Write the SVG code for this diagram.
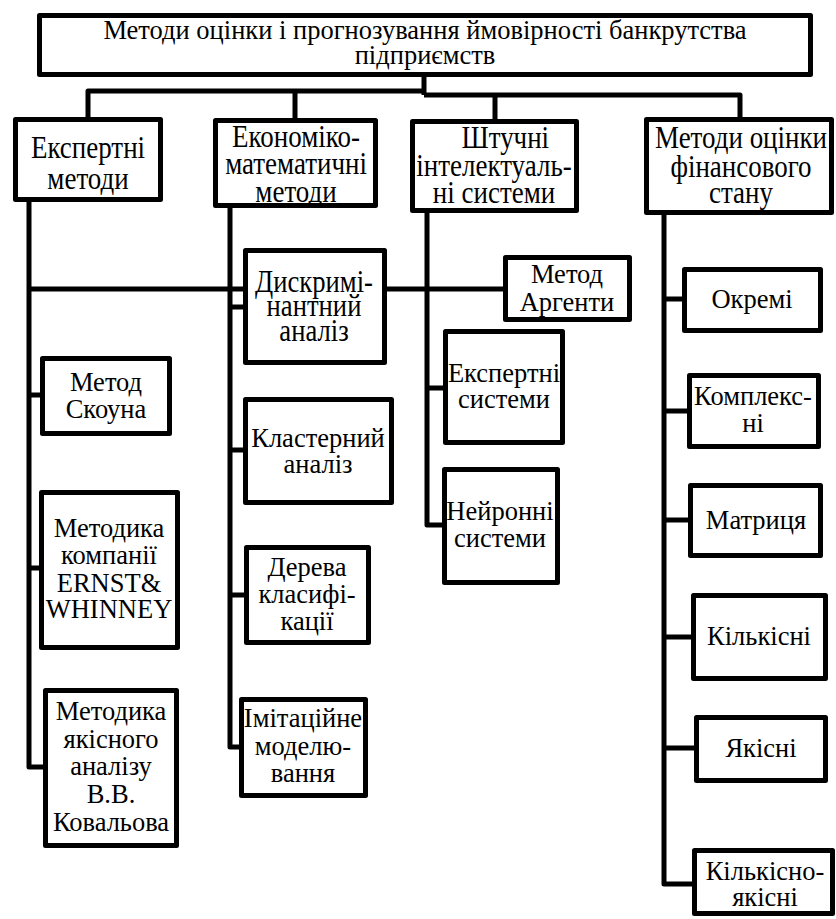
<svg xmlns="http://www.w3.org/2000/svg" width="836" height="919" viewBox="0 0 836 919">
<style>
.box{fill:#fff;stroke:#000;stroke-width:5;stroke-linejoin:round}
.ln{fill:none;stroke:#000;stroke-width:5;stroke-linejoin:round;stroke-linecap:butt}
.t{font-family:"Liberation Serif","Times New Roman",serif;font-size:26.5px;text-anchor:middle;fill:#000}
.tt{font-family:"Liberation Serif","Times New Roman",serif;font-size:31px;text-anchor:middle;fill:#000}
</style>
<rect width="836" height="919" fill="#fff"/>
<g id="connectors">
<path class="ln" d="M424,77 V95 M88,117 V91 H424 M295,118 V91 M424,95 H740 V117 M495,119 V95"/>
<path class="ln" d="M29,202 V767 H43 M29,289 H503 M29,395 H40 M29,568 H39"/>
<path class="ln" d="M230,208 V747 H239 M230,307 H243 M230,450 H243 M230,595 H244"/>
<path class="ln" d="M427,213 V525 H442 M427,388 H443"/>
<path class="ln" d="M664,215 V884 H692 M664,299 H682 M664,411 H687 M664,520 H688 M664,637 H691 M664,748 H694"/>
</g>
<g id="root"><rect class="box" x="39.5" y="15.5" width="771" height="59"/><text class="t" x="425" y="39">Методи оцінки і прогнозування ймовірності банкрутства</text><text class="t" x="425" y="64">підприємств</text></g>
<g id="expert"><rect class="box" x="15.5" y="119.5" width="145" height="80"/><g transform="translate(88,0) scale(0.87,1)"><text class="tt" x="0" y="158">Експертні</text><text class="tt" x="0" y="189">методи</text></g></g>
<g id="econ"><rect class="box" x="215.5" y="120.5" width="160" height="85"/><g transform="translate(296,0) scale(0.87,1)"><text class="tt" x="0" y="147">Економіко-</text><text class="tt" x="0" y="174">математичні</text><text class="tt" x="0" y="202">методи</text></g></g>
<g id="ai"><rect class="box" x="412.5" y="121.5" width="164" height="89"/><g transform="translate(494,0) scale(0.87,1)"><text class="tt" x="13" y="148">Штучні</text><text class="tt" x="0" y="176">інтелектуаль-</text><text class="tt" x="0" y="203">ні системи</text></g></g>
<g id="fin"><rect class="box" x="646.5" y="119.5" width="185" height="93"/><g transform="translate(741,0) scale(0.87,1)"><text class="tt" x="0" y="148">Методи оцінки</text><text class="tt" x="0" y="177">фінансового</text><text class="tt" x="0" y="203">стану</text></g></g>
<g id="discr"><rect class="box" x="245.5" y="250.5" width="139" height="112"/><g transform="translate(314,0) scale(0.86,1)"><text class="tt" x="0" y="292">Дискримі-</text><text class="tt" x="0" y="316">нантний</text><text class="tt" x="0" y="341">аналіз</text></g></g>
<g id="scoun"><rect class="box" x="42.5" y="358.5" width="127" height="75"/><text class="t" x="106" y="391">Метод</text><text class="t" x="106" y="418">Скоуна</text></g>
<g id="cluster"><rect class="box" x="245.5" y="399.5" width="146" height="103"/><text class="t" x="318" y="447">Кластерний</text><text class="t" x="318" y="473">аналіз</text></g>
<g id="ernst"><rect class="box" x="41.5" y="492.5" width="136" height="155"/><text class="t" x="109" y="537">Методика</text><text class="t" x="109" y="564">компанії</text><text class="t" x="109" y="592">ERNST&amp;</text><text class="t" x="109" y="618">WHINNEY</text></g>
<g id="kovalyov"><rect class="box" x="45.5" y="690.5" width="131" height="155"/><text class="t" x="111" y="720">Методика</text><text class="t" x="111" y="748">якісного</text><text class="t" x="111" y="775">аналізу</text><text class="t" x="111" y="803">В.В.</text><text class="t" x="111" y="831">Ковальова</text></g>
<g id="trees"><rect class="box" x="246.5" y="547.5" width="122" height="95"/><text class="t" x="307" y="576">Дерева</text><text class="t" x="307" y="603">класифі-</text><text class="t" x="307" y="630">кації</text></g>
<g id="sim"><rect class="box" x="241.5" y="699.5" width="124" height="96"/><text class="t" x="303" y="727">Імітаційне</text><text class="t" x="303" y="755">моделю-</text><text class="t" x="303" y="782">вання</text></g>
<g id="argenti"><rect class="box" x="505.5" y="257.5" width="124" height="62"/><text class="t" x="567" y="283">Метод</text><text class="t" x="567" y="311">Аргенти</text></g>
<g id="expsys"><rect class="box" x="445.5" y="331.5" width="117" height="111"/><text class="t" x="504" y="382">Експертні</text><text class="t" x="504" y="408">системи</text></g>
<g id="neural"><rect class="box" x="444.5" y="469.5" width="113" height="113"/><text class="t" x="500" y="520">Нейронні</text><text class="t" x="500" y="547">системи</text></g>
<g id="separate"><rect class="box" x="684.5" y="269.5" width="136" height="61"/><text class="t" x="752" y="308">Окремі</text></g>
<g id="complex"><rect class="box" x="689.5" y="375.5" width="129" height="71"/><text class="t" x="753" y="405">Комплекс-</text><text class="t" x="753" y="432">ні</text></g>
<g id="matrix"><rect class="box" x="690.5" y="485.5" width="130" height="70"/><text class="t" x="756" y="529">Матриця</text></g>
<g id="quant"><rect class="box" x="693.5" y="595.5" width="132" height="83"/><text class="t" x="759" y="645">Кількісні</text></g>
<g id="qual"><rect class="box" x="696.5" y="717.5" width="129" height="63"/><text class="t" x="761" y="757">Якісні</text></g>
<g id="quantqual"><rect class="box" x="694.5" y="850.5" width="138" height="63"/><text class="t" x="765" y="880">Кількісно-</text><text class="t" x="765" y="906">якісні</text></g>
</svg>
